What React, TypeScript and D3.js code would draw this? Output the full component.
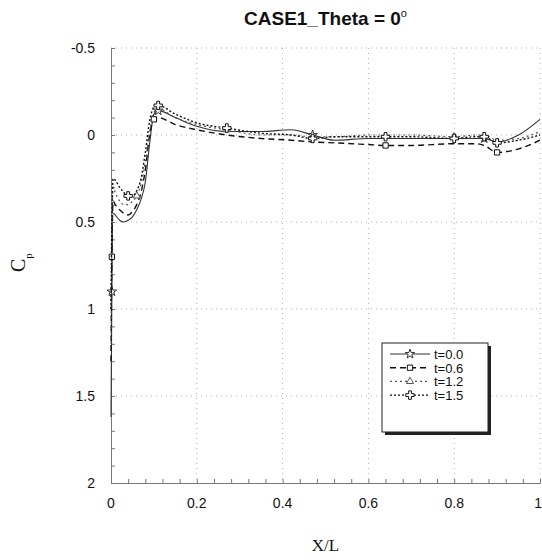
import React, { useRef, useEffect } from "react";
import * as d3 from "d3";

// X/L stations shared by all four time steps
const xPos = [0, 0.002, 0.005, 0.01, 0.02, 0.03, 0.04, 0.05, 0.06, 0.07, 0.08, 0.09, 0.1, 0.11, 0.15, 0.2, 0.27, 0.35, 0.42, 0.47, 0.52, 0.6, 0.64, 0.7, 0.8, 0.85, 0.87, 0.9, 0.95, 1.0];

const cpT00 = [1.62, 0.9, 0.45, 0.46, 0.49, 0.5, 0.49, 0.47, 0.43, 0.37, 0.27, 0.05, -0.12, -0.14, -0.1, -0.05, -0.02, -0.02, -0.03, 0.0, 0.03, 0.02, 0.02, 0.02, 0.02, 0.02, 0.02, 0.04, 0.0, -0.09];
const cpT06 = [1.3, 0.7, 0.38, 0.4, 0.43, 0.45, 0.46, 0.44, 0.4, 0.33, 0.2, 0.0, -0.09, -0.1, -0.06, -0.03, 0.0, 0.02, 0.03, 0.04, 0.045, 0.055, 0.06, 0.06, 0.05, 0.05, 0.06, 0.1, 0.08, 0.03];
const cpT12 = [1.2, 0.6, 0.3, 0.33, 0.38, 0.4, 0.4, 0.38, 0.35, 0.28, 0.15, -0.02, -0.13, -0.15, -0.1, -0.06, -0.03, 0.0, 0.0, 0.01, 0.01, 0.0, 0.0, 0.0, 0.01, 0.0, 0.0, 0.03, 0.02, -0.02];
const cpT15 = [1.0, 0.5, 0.25, 0.26, 0.3, 0.33, 0.35, 0.35, 0.32, 0.25, 0.1, -0.08, -0.16, -0.17, -0.12, -0.07, -0.04, -0.01, 0.0, 0.02, 0.01, 0.01, 0.01, 0.01, 0.02, 0.01, 0.01, 0.045, 0.03, 0.0];

// where the symbols sit along each curve (X/L values)
const marksT00 = [0.002, 0.11, 0.47, 0.87];
const marksT06 = [0.002, 0.1, 0.64, 0.9];
const marksT12 = [0.06, 0.27, 0.8];
const marksT15 = [0.04, 0.11, 0.27, 0.47, 0.64, 0.8, 0.87, 0.9];

const seriesNames = ["t=0.0", "t=0.6", "t=1.2", "t=1.5"];
const xTicks = [0, 0.2, 0.4, 0.6, 0.8, 1];
const yTicks = [-0.5, 0, 0.5, 1, 1.5, 2];

const App = () => {
  const ref = useRef<SVGSVGElement>(null);

  useEffect(() => {
    const svgWidth = 542;
    const svgHeight = 560;
    const left = 111, right = 540, top = 48, bottom = 483;
    const sansFont = "Arial, 'Liberation Sans', sans-serif";
    const serifFont = "'Times New Roman', 'Liberation Serif', serif";

    const svg = d3.select(ref.current)
      .attr("width", svgWidth)
      .attr("height", svgHeight);
    svg.selectAll("*").remove();

    const xScale = d3.scaleLinear().domain([0, 1]).range([left, right]);
    const yScale = d3.scaleLinear().domain([-0.5, 2]).range([top, bottom]);

    // dotted grid
    const grid = svg.append("g");
    grid.selectAll("line.vg").data(xTicks.slice(1)).enter().append("line")
      .attr("x1", d => xScale(d)).attr("x2", d => xScale(d))
      .attr("y1", top).attr("y2", bottom)
      .attr("stroke", "#b0b0b0").attr("stroke-width", 1).attr("stroke-dasharray", "1,4");
    grid.selectAll("line.hg").data(yTicks.slice(0, -1)).enter().append("line")
      .attr("x1", left).attr("x2", right)
      .attr("y1", d => yScale(d)).attr("y2", d => yScale(d))
      .attr("stroke", "#b0b0b0").attr("stroke-width", 1).attr("stroke-dasharray", "1,4");

    // axes (ticks point inward, minor ticks every 1/5 of a major step)
    const xAxis = d3.axisTop(xScale).tickValues(d3.range(0, 1.0001, 0.04)).tickSize(4).tickFormat(() => "");
    svg.append("g").attr("transform", `translate(0, ${bottom})`).call(xAxis)
      .call(g => g.selectAll("line, path").attr("stroke", "#777"));
    const yAxis = d3.axisRight(yScale).tickValues(d3.range(-0.5, 2.0001, 0.1)).tickSize(4).tickFormat(() => "");
    svg.append("g").attr("transform", `translate(${left}, 0)`).call(yAxis)
      .call(g => g.selectAll("line, path").attr("stroke", "#777"));

    svg.append("g").selectAll("text").data(xTicks).enter().append("text")
      .attr("x", (d, i) => xScale(d) + (i === xTicks.length - 1 ? 2 : 0)).attr("y", bottom + 25)
      .attr("text-anchor", (d, i) => (i === xTicks.length - 1 ? "end" : "middle"))
      .style("font-family", sansFont).style("font-size", "14px").attr("fill", "#111")
      .text(d => String(d));
    svg.append("g").selectAll("text").data(yTicks).enter().append("text")
      .attr("x", left - 16).attr("y", d => yScale(d) + 5)
      .attr("text-anchor", "end")
      .style("font-family", sansFont).style("font-size", "14px").attr("fill", "#111")
      .text(d => String(d));

    // title + axis labels
    const title = svg.append("text")
      .attr("x", (left + right) / 2).attr("y", 25)
      .attr("text-anchor", "middle")
      .style("font-family", sansFont).style("font-size", "19px").style("font-weight", "bold")
      .attr("fill", "#111");
    title.append("tspan").text("CASE1_Theta = 0");
    title.append("tspan").attr("dy", -8).style("font-size", "11px").style("font-weight", "normal").text("o");

    svg.append("text")
      .attr("x", (left + right) / 2).attr("y", 551)
      .attr("text-anchor", "middle")
      .style("font-family", serifFont).style("font-size", "17px").attr("fill", "#111")
      .text("X/L");

    const cpLabel = svg.append("text")
      .attr("transform", "translate(25, 272) rotate(-90)")
      .style("font-family", serifFont).style("font-size", "20px").attr("fill", "#111");
    cpLabel.append("tspan").text("C");
    cpLabel.append("tspan").attr("dy", 7).style("font-size", "11px").text("p");

    // curves
    const series = [
      { name: seriesNames[0], values: cpT00, marks: marksT00, dash: null, color: "#333", width: 1.1, symbol: "star" },
      { name: seriesNames[1], values: cpT06, marks: marksT06, dash: "6,4", color: "#111", width: 1.4, symbol: "square" },
      { name: seriesNames[2], values: cpT12, marks: marksT12, dash: "2,3", color: "#555", width: 1.2, symbol: "tri" },
      { name: seriesNames[3], values: cpT15, marks: marksT15, dash: "2,2", color: "#111", width: 1.4, symbol: "cross" },
    ];

    const line = d3.line<number>()
      .x((d, i) => xScale(xPos[i]))
      .y(d => yScale(d))
      .curve(d3.curveMonotoneX);

    const symbolPath = (kind: string, size: number) => {
      if (kind === "square") return d3.symbol(d3.symbolSquare, size)();
      if (kind === "tri") return d3.symbol(d3.symbolTriangle, size * 0.8)();
      if (kind === "cross") return d3.symbol(d3.symbolCross, size * 1.4)();
      return d3.symbol(d3.symbolStar, size)();
    };

    const interp = (vals: number[], x: number) => {
      const i = Math.max(1, d3.bisectLeft(xPos, x));
      const x0 = xPos[i - 1], x1 = xPos[i];
      const t = x1 === x0 ? 0 : (x - x0) / (x1 - x0);
      return vals[i - 1] + (vals[i] - vals[i - 1]) * Math.min(1, Math.max(0, t));
    };

    series.forEach(s => {
      svg.append("path")
        .datum(s.values)
        .attr("d", line)
        .attr("fill", "none")
        .attr("stroke", s.color)
        .attr("stroke-width", s.width)
        .attr("stroke-dasharray", s.dash);

      svg.append("g").selectAll("path").data(s.marks).enter().append("path")
        .attr("transform", d => `translate(${xScale(d)}, ${yScale(interp(s.values, d))})`)
        .attr("d", symbolPath(s.symbol, 28))
        .attr("fill", "white")
        .attr("stroke", s.color)
        .attr("stroke-width", 1);
    });

    // legend with drop shadow
    const lx = 382, ly = 343, lw = 106, lh = 89;
    svg.append("rect").attr("x", lx + 3).attr("y", ly + 3).attr("width", lw).attr("height", lh).attr("fill", "#222");
    svg.append("rect").attr("x", lx).attr("y", ly).attr("width", lw).attr("height", lh)
      .attr("fill", "white").attr("stroke", "#222").attr("stroke-width", 1);

    series.forEach((s, i) => {
      const yy = ly + 11 + i * 13.7;
      svg.append("line")
        .attr("x1", lx + 8).attr("x2", lx + 48).attr("y1", yy).attr("y2", yy)
        .attr("stroke", s.color).attr("stroke-width", s.width).attr("stroke-dasharray", s.dash);
      svg.append("path")
        .attr("transform", `translate(${lx + 28}, ${yy})`)
        .attr("d", symbolPath(s.symbol, 28))
        .attr("fill", "white").attr("stroke", s.color).attr("stroke-width", 1);
      svg.append("text")
        .attr("x", lx + 52).attr("y", yy + 5)
        .style("font-family", sansFont).style("font-size", "13px").attr("fill", "#111")
        .text(s.name);
    });
  }, []);

  return (
    <div style={{ position: "absolute", left: 0, top: 0 }}>
      <svg ref={ref}></svg>
    </div>
  );
};

export default App;
